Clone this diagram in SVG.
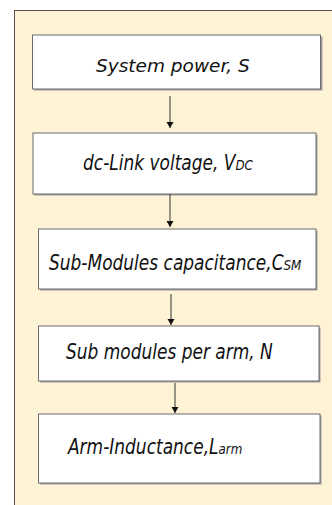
<svg xmlns="http://www.w3.org/2000/svg" width="332" height="505" viewBox="0 0 332 505">
<defs>
<style>
.panel{fill:#fff3d6;stroke:#5a5050;stroke-width:1}
.box{fill:#ffffff;stroke:#6b6b6b;stroke-width:1}
.shadow{fill:#a0a0a0}
.t{font-family:"DejaVu Sans Condensed","DejaVu Sans",sans-serif;font-stretch:condensed;font-style:italic;font-size:21px;fill:#111}
.t1{font-family:"DejaVu Sans",Verdana,sans-serif;font-style:italic;font-size:18.5px;fill:#111}
.sub{font-size:70%}
.conn{stroke:#333;stroke-width:1;fill:none}
</style>
<marker id="ah" viewBox="0 0 6 12" refX="6" refY="6" markerWidth="6" markerHeight="12" markerUnits="userSpaceOnUse" orient="auto">
<path d="M0,2.5 L6,6 L0,9.5 Z" fill="#111"/>
</marker>
</defs>
<rect class="panel" x="14.5" y="10.5" width="330" height="500"/>
<g id="node1">
<rect class="shadow" x="34" y="36.5" width="288.5" height="54"/>
<rect class="box" x="32.5" y="35" width="288" height="54"/>
<text class="t1" x="96" y="72">System power, S</text>
</g>
<g id="node2">
<rect class="shadow" x="34.5" y="134.5" width="283" height="61"/>
<rect class="box" x="33" y="133" width="283" height="61"/>
<text class="t" transform="translate(83,170) scale(0.9,1)">dc-Link voltage, V<tspan class="sub">DC</tspan></text>
</g>
<g id="node3">
<rect class="shadow" x="40" y="230.5" width="277.5" height="60"/>
<rect class="box" x="38.5" y="229" width="277.5" height="60"/>
<text class="t" transform="translate(49,270) scale(0.9,1)">Sub-Modules capacitance,C<tspan class="sub">SM</tspan></text>
</g>
<g id="node4">
<rect class="shadow" x="40" y="327.5" width="280.5" height="55"/>
<rect class="box" x="38.5" y="326" width="280.5" height="55"/>
<text class="t" transform="translate(66,359) scale(0.9,1)">Sub modules per arm, N</text>
</g>
<g id="node5">
<rect class="shadow" x="40" y="415.5" width="281.5" height="69"/>
<rect class="box" x="38.5" y="414" width="281.5" height="69"/>
<text class="t" transform="translate(68,454) scale(0.9,1)">Arm-Inductance,L<tspan class="sub">arm</tspan></text>
</g>
<g id="connectors">
<line class="conn" x1="170" y1="96" x2="170" y2="128" marker-end="url(#ah)"/>
<line class="conn" x1="170" y1="194" x2="170" y2="227" marker-end="url(#ah)"/>
<line class="conn" x1="171" y1="294" x2="171" y2="325" marker-end="url(#ah)"/>
<line class="conn" x1="175" y1="383" x2="175" y2="413" marker-end="url(#ah)"/>
</g>
</svg>
